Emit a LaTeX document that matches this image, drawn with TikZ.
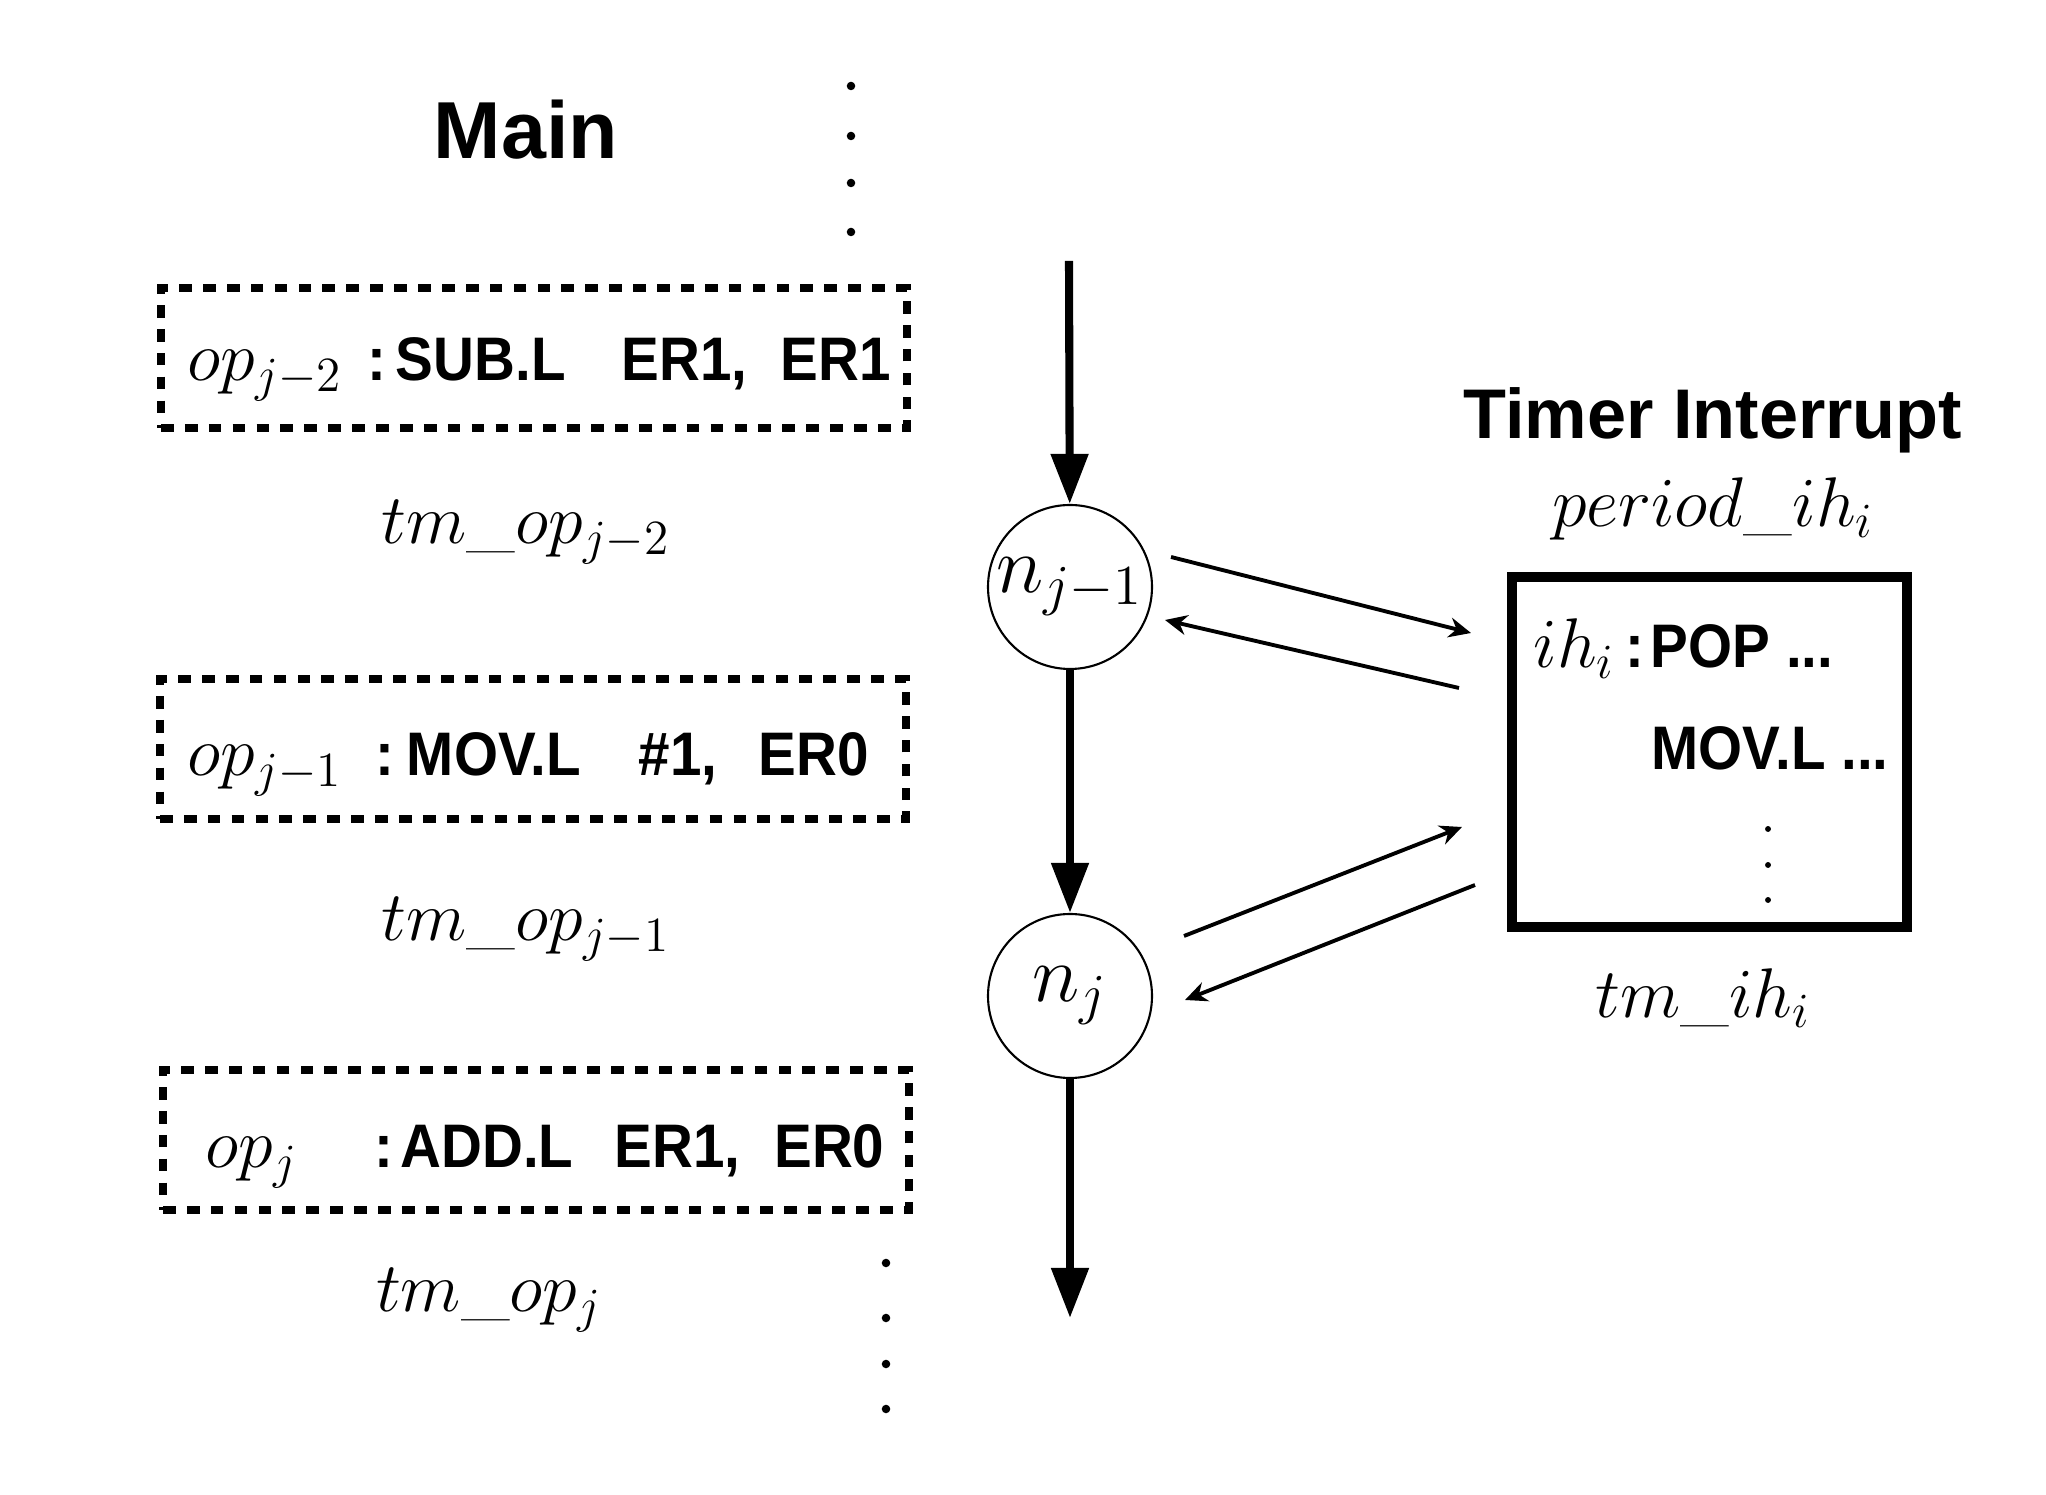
\RequirePackage{fix-cm}
\documentclass[tikz,border=0pt]{standalone}
\usepackage{fontspec}
\setsansfont{Liberation Sans}
\newfontfamily\narrowsans[FakeStretch=0.92]{Liberation Sans}
\usetikzlibrary{arrows.meta}

\newcommand{\opm}[1]{{\fontsize{20}{24}\selectfont$#1$}}
\newcommand{\instr}{\narrowsans\bfseries\fontsize{17.5}{21}\selectfont}

\begin{document}
\begin{tikzpicture}[
    opbox/.style={draw, line width=2.4pt, dash pattern=on 3.6pt off 3.2pt,
        minimum width=7.46cm, minimum height=1.40cm, inner sep=0pt},
    optext/.style={anchor=base west, inner sep=0pt},
    evt/.style={draw, circle, line width=0.6pt, minimum size=1.64cm, inner sep=0pt,
        font=\fontsize{23}{27}\selectfont},
    flow/.style={line width=2.3pt, -{Triangle[length=0.5cm,width=0.36cm]}},
    irq/.style={line width=1.1pt, -{Stealth[length=0.22cm,width=0.2cm]}},
    lbl/.style={font=\fontsize{20}{24}\selectfont}
]
    \useasboundingbox (0,0) rectangle (20.46,14.95);

    \node[font=\sffamily\bfseries\fontsize{23}{27}\selectfont] (main) at (5.26,13.65) {Main};
    \node[font=\sffamily\bfseries\fontsize{20}{24}\selectfont] (timer) at (17.13,10.75) {Timer Interrupt};
    \node[lbl] (period) at (17.13,9.86) {$period\_ih_i$};

    % instructions of main
    \node[opbox] (op2) at (5.34,11.37) {};
    \node[optext] (op2txt) at (1.87,11.14)
        {\opm{op_{j-2}}\hspace{0.25cm}\instr :\hspace{0.10cm}SUB.L\hspace{0.56cm}ER1,\hspace{0.33cm}ER1};
    \node[lbl] (tm2) at (5.26,9.63) {$tm\_op_{j-2}$};

    \node[opbox] (op1) at (5.33,7.46) {};
    \node[optext] (op1txt) at (1.87,7.19)
        {\opm{op_{j-1}}\hspace{0.33cm}\instr :\hspace{0.13cm}MOV.L\hspace{0.58cm}\#1,\hspace{0.41cm}ER0};
    \node[lbl] (tm1) at (5.26,5.66) {$tm\_op_{j-1}$};

    \node[opbox] (op0) at (5.36,3.55) {};
    \node[optext] (op0txt) at (2.05,3.27)
        {\opm{op_j}\hspace{0.77cm}\instr :\hspace{0.07cm}ADD.L\hspace{0.41cm}ER1,\hspace{0.34cm}ER0};
    \node[lbl] (tm0) at (4.89,1.95) {$tm\_op_j$};

    % dots
    \filldraw[black] (8.51,14.09) circle (0.035);
    \filldraw[black] (8.51,13.59) circle (0.035);
    \filldraw[black] (8.51,13.12) circle (0.035);
    \filldraw[black] (8.51,12.63) circle (0.035);

    \filldraw[black] (8.86,2.32) circle (0.035);
    \filldraw[black] (8.86,1.77) circle (0.035);
    \filldraw[black] (8.86,1.31) circle (0.035);
    \filldraw[black] (8.86,0.86) circle (0.035);

    % execution flow
    \node[evt] (n1) at (10.70,9.08) {$n_{j-1}$};
    \node[evt] (n0) at (10.70,4.99) {$n_j$};
    \coordinate (start) at (10.69,12.34);
    \coordinate (stop) at (10.70,1.77);

    \draw[flow] (start) -- (n1);
    \draw[flow] (n1) -- (n0);
    \draw[flow] (n0) -- (stop);

    % interrupt handler
    \node[draw, line width=0.1cm, minimum width=3.95cm, minimum height=3.5cm] (ih) at (17.095,7.43) {};
    \node[optext] (ihpop) at (15.33,8.27)
        {\opm{ih_i}\hspace{0.10cm}\instr :\hspace{0.07cm}POP ...};
    \node[optext] (ihmov) at (16.51,7.25) {\instr MOV.L ...};
    \filldraw[black] (17.68,6.66) circle (0.022);
    \filldraw[black] (17.68,6.30) circle (0.022);
    \filldraw[black] (17.68,5.95) circle (0.022);
    \node[lbl] (tmih) at (17.03,4.97) {$tm\_ih_i$};

    \coordinate (a1) at (11.71,9.38);
    \coordinate (b1) at (14.71,8.62);
    \coordinate (a2) at (14.59,8.07);
    \coordinate (b2) at (11.65,8.75);
    \coordinate (a3) at (11.84,5.59);
    \coordinate (b3) at (14.62,6.68);
    \coordinate (a4) at (14.75,6.10);
    \coordinate (b4) at (11.85,4.95);

    \draw[irq] (a1) -- (b1);
    \draw[irq] (a2) -- (b2);
    \draw[irq] (a3) -- (b3);
    \draw[irq] (a4) -- (b4);
\end{tikzpicture}
\end{document}
